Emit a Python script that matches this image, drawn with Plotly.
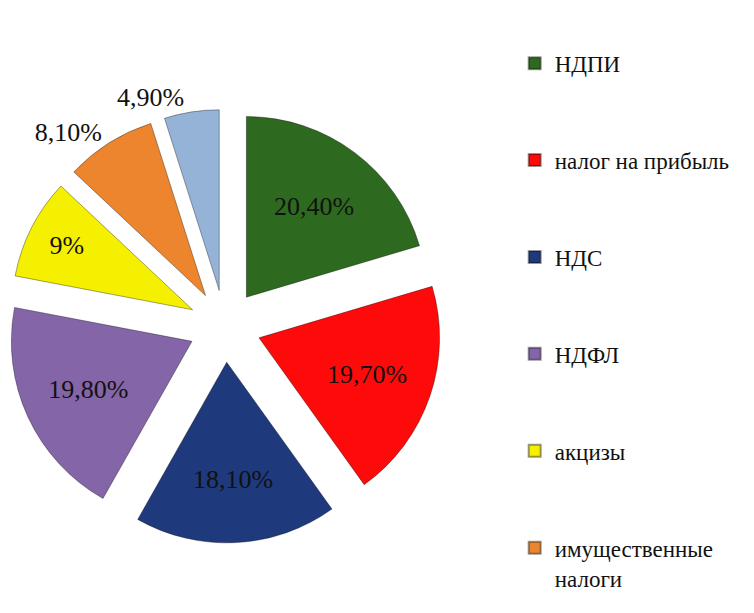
import plotly.graph_objects as go

categories = ["НДПИ", "налог на прибыль", "НДС", "НДФЛ", "акцизы", "имущественные<br>налоги", "прочие"]
values = [20.4, 19.7, 18.1, 19.8, 9.0, 8.1, 4.9]
value_labels = ["20,40%", "19,70%", "18,10%", "19,80%", "9%", "8,10%", "4,90%"]
colors = ["#2D6A1F", "#FF0A0A", "#1F3A7C", "#8466A8", "#F5F000", "#EC852E", "#95B3D7"]
legend_count = 6

SERIF = "'Liberation Serif', 'DejaVu Serif', serif"

fig = go.Figure()
fig.add_trace(go.Pie(
    labels=categories,
    values=values,
    text=value_labels,
    textinfo="text",
    sort=False,
    direction="clockwise",
    rotation=0,
    pull=[0.2] * len(values),
    marker=dict(colors=colors, line=dict(color="rgba(0,0,0,0.35)", width=1)),
    textposition=["inside", "inside", "inside", "inside", "inside", "outside", "outside"],
    insidetextorientation="horizontal",
    textfont=dict(family=SERIF, size=26, color="#111111"),
    outsidetextfont=dict(family=SERIF, size=26, color="#111111"),
    showlegend=False,
    domain=dict(x=[0.0, 0.575], y=[0.0, 0.962]),
    hoverinfo="label+text",
))

for i in range(legend_count):
    fig.add_trace(go.Scatter(
        x=[None], y=[None], mode="markers",
        name=categories[i],
        legendgroup="g%d" % i,
        marker=dict(symbol="square", size=11, color=colors[i],
                    line=dict(color="rgba(0,0,0,0.4)", width=1)),
        showlegend=True,
    ))

fig.update_layout(
    width=754, height=613,
    margin=dict(l=0, r=0, t=0, b=0, autoexpand=False),
    font=dict(family=SERIF, size=23, color="#111111"),
    paper_bgcolor="white", plot_bgcolor="white",
    xaxis=dict(visible=False), yaxis=dict(visible=False),
    legend=dict(
        x=0.672, y=0.945, xanchor="left", yanchor="top",
        font=dict(family=SERIF, size=23, color="#111111"),
        tracegroupgap=64, itemsizing="constant", valign="top",
        bgcolor="rgba(0,0,0,0)",
    ),
)

fig.write_html("out.html")
